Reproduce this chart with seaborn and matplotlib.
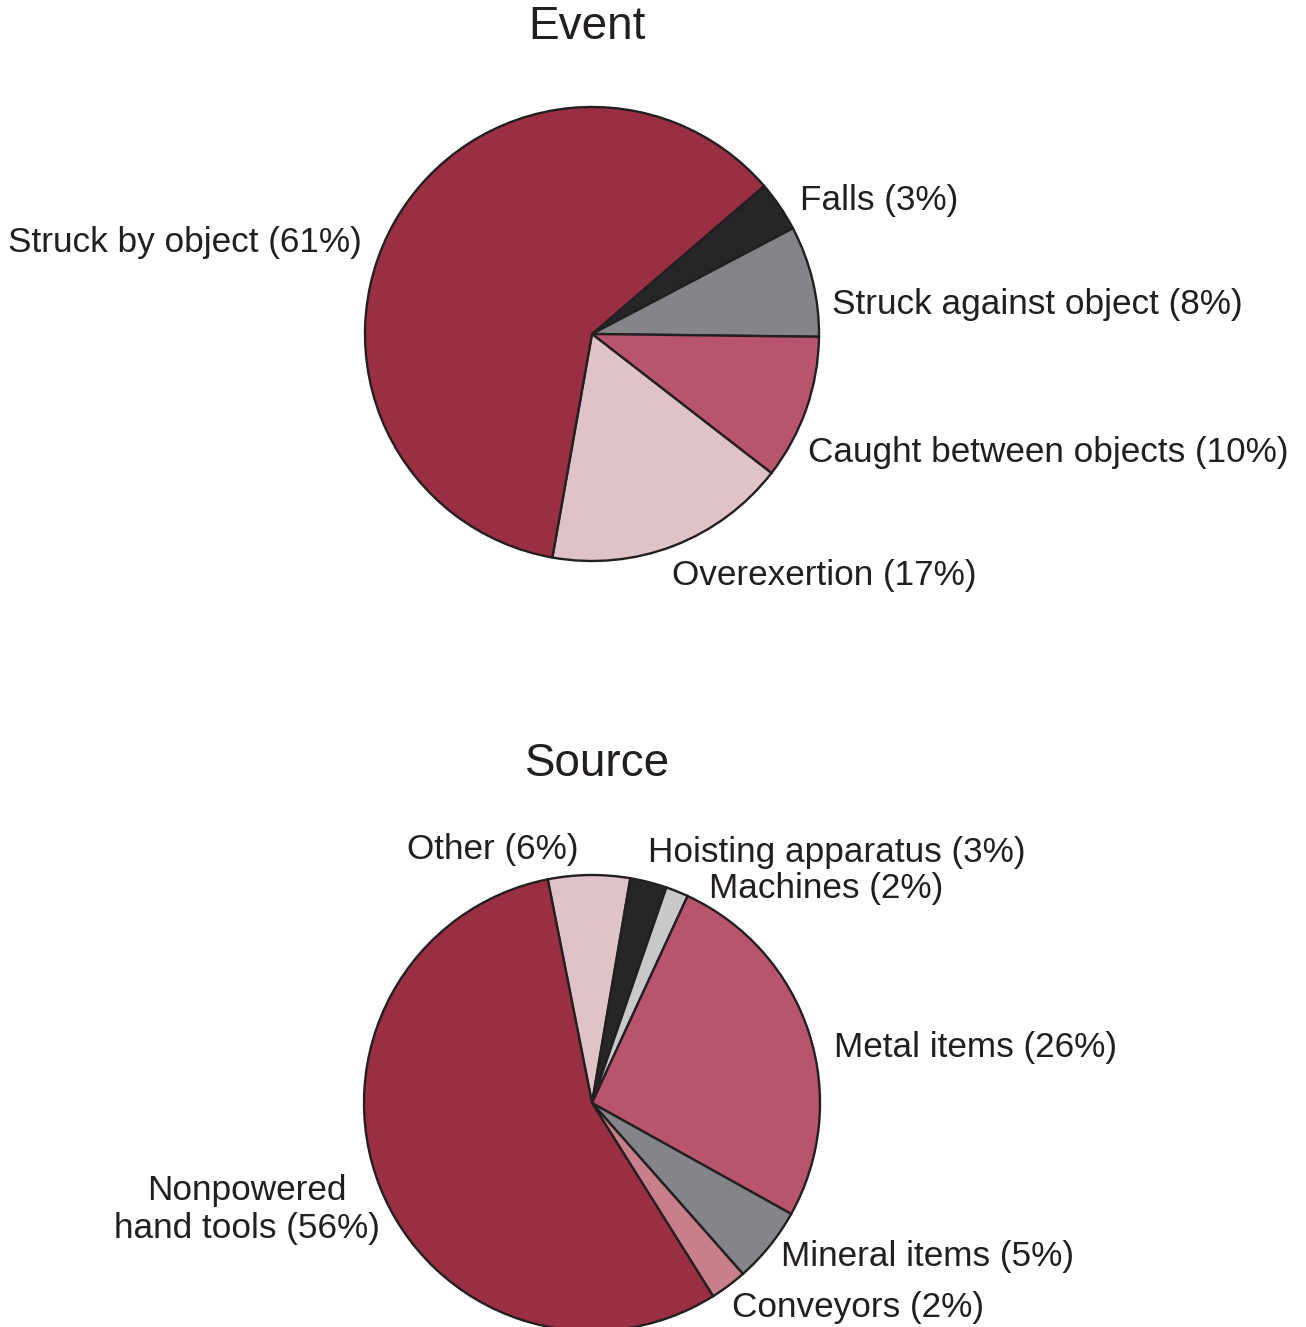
import matplotlib
matplotlib.use("Agg")
import matplotlib.pyplot as plt
import seaborn as sns

sns.set_theme(style='white')
plt.rcParams['font.family'] = ['Liberation Sans', 'DejaVu Sans']

## Data
# Event pie (clockwise from the Falls slice)
event_labels = ['Falls', 'Struck against object', 'Caught between objects',
                'Overexertion', 'Struck by object']
event_pct = [3, 8, 10, 17, 61]
event_share = [3.6, 7.9, 10.3, 17.3, 60.9]   # slice sizes
event_colors = ['#262626', '#848589', '#b9546e', '#dfc3c8', '#9a2f43']

# Source pie (clockwise from the Other slice)
source_labels = ['Other', 'Hoisting apparatus', 'Machines', 'Metal items',
                 'Mineral items', 'Conveyors', 'Nonpowered\nhand tools']
source_pct = [6, 3, 2, 26, 5, 2, 56]
source_share = [5.8, 2.6, 1.6, 26.2, 5.4, 2.6, 55.8]
source_colors = ['#dfc3c8', '#262626', '#c8c9cb', '#b9546e', '#848589',
                 '#c97e8c', '#9a2f43']

# label placement (in pie-radius units) and alignment
event_pos = [(0.916, 0.590, 'left'), (1.057, 0.131, 'left'), (0.952, -0.521, 'left'),
             (0.352, -1.062, 'left'), (-1.013, 0.405, 'right')]
source_pos = [(-0.434, 1.113, 'center'), (0.246, 1.100, 'left'), (0.513, 0.942, 'left'),
              (1.061, 0.245, 'left'), (0.829, -0.672, 'left'), (0.614, -0.896, 'left'),
              (-1.513, -0.466, 'center')]

W, H = 1306, 1327
text_col = '#231f20'
fig = plt.figure(figsize=(W / 100, H / 100), dpi=100)


def draw_pie(rect_px, center_px, r_px, shares, pcts, labels, colors, start, pos):
    # rect_px: (top, bottom) in pixels from the top of the figure
    top, bottom = rect_px
    ax = fig.add_axes([0, (H - bottom) / H, 1, (bottom - top) / H])
    cx, cy = center_px
    ax.pie(shares, colors=colors, startangle=start, counterclock=False,
           wedgeprops=dict(edgecolor=text_col, linewidth=1.7))
    ax.set_xlim(-cx / r_px, (W - cx) / r_px)
    ax.set_ylim(-(bottom - cy) / r_px, (cy - top) / r_px)
    ax.set_aspect('auto')
    ax.axis('off')
    for lab, p, (x, y, ha) in zip(labels, pcts, pos):
        ax.text(x, y, f'{lab} ({p}%)', ha=ha, va='center', fontsize=25.3,
                color=text_col, linespacing=1.18)
    return ax


draw_pie((0, 663), (592, 334), 227, event_share, event_pct, event_labels,
         event_colors, 40.7, event_pos)
draw_pie((663, 1327), (592, 1103), 228, source_share, source_pct, source_labels,
         source_colors, 101.2, source_pos)

fig.text(587 / W, 1 - 27 / H, 'Event', ha='center', va='center', fontsize=33, color=text_col)
fig.text(598 / W, 1 - 764 / H, 'Source', ha='center', va='center', fontsize=33, color=text_col)

fig.savefig('out.png', dpi=100)
